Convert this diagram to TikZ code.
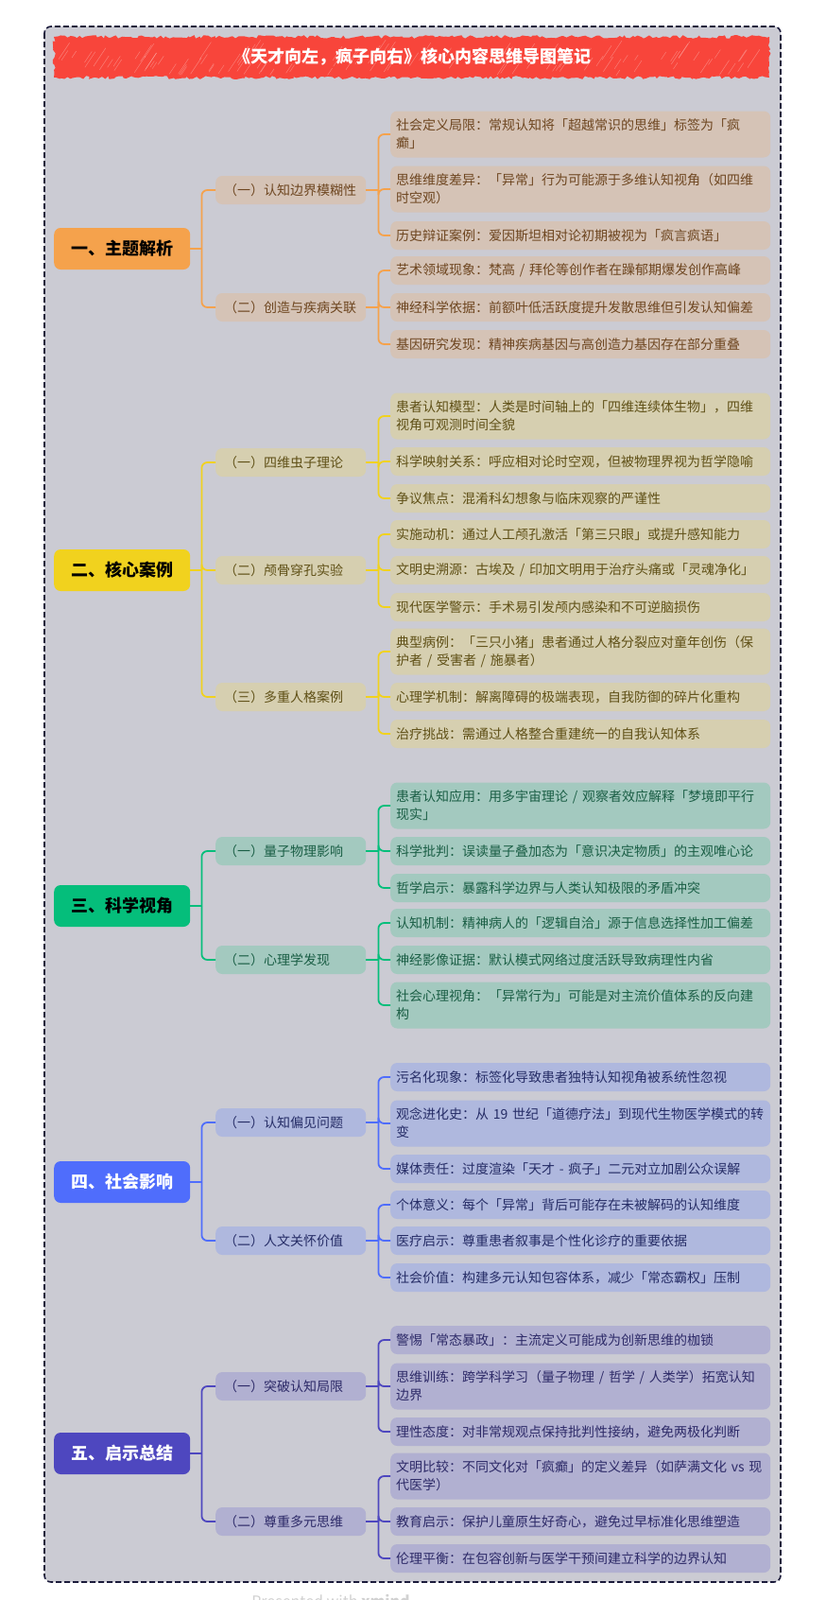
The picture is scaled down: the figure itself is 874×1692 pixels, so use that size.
\documentclass[tikz,border=0pt]{standalone}
\usepackage{fontspec}
\setmainfont{Noto Sans CJK SC}
\usetikzlibrary{calc,decorations.pathmorphing}
\definecolor{framebg}{HTML}{CBCBD3}
\definecolor{frameline}{HTML}{1B1B3B}
\definecolor{bannerred}{HTML}{F8453B}
\definecolor{cA}{HTML}{F5A24C}\definecolor{fA}{HTML}{D5C3B6}\definecolor{tA}{HTML}{6E4620}
\definecolor{cB}{HTML}{F1D21E}\definecolor{fB}{HTML}{D6CFB0}\definecolor{tB}{HTML}{5F5016}
\definecolor{cC}{HTML}{05BE7B}\definecolor{fC}{HTML}{A3C9BF}\definecolor{tC}{HTML}{1A5E45}
\definecolor{cD}{HTML}{4F6DFC}\definecolor{fD}{HTML}{AFB8DE}\definecolor{tD}{HTML}{252C66}
\definecolor{cE}{HTML}{4E47BF}\definecolor{fE}{HTML}{B1B0D1}\definecolor{tE}{HTML}{2D2A68}
\tikzset{
  rootbox/.style={rounded corners=7pt, minimum width=144pt, minimum height=44pt, inner sep=0pt,
    font=\fontsize{18}{22}\selectfont\bfseries, anchor=west},
  subbox/.style={rounded corners=7pt, text width=141pt, inner xsep=9pt, inner ysep=0pt,
    minimum height=30pt, align=left, font=\fontsize{14}{19}\selectfont, anchor=west},
  leafbox/.style={rounded corners=7pt, text width=390pt, inner xsep=6pt, inner ysep=0pt,
    minimum height=30pt, align=left, font=\fontsize{14}{19}\selectfont, anchor=west},
  two/.style={minimum height=49pt},
  conn/.style={line width=1.8pt, rounded corners=6pt},
  rA/.style={rootbox, fill=cA, text=black}, sA/.style={subbox, fill=fA, text=tA}, lA/.style={leafbox, fill=fA, text=tA}, kA/.style={conn, draw=cA},
  rB/.style={rootbox, fill=cB, text=black}, sB/.style={subbox, fill=fB, text=tB}, lB/.style={leafbox, fill=fB, text=tB}, kB/.style={conn, draw=cB},
  rC/.style={rootbox, fill=cC, text=black}, sC/.style={subbox, fill=fC, text=tC}, lC/.style={leafbox, fill=fC, text=tC}, kC/.style={conn, draw=cC},
  rD/.style={rootbox, fill=cD, text=white}, sD/.style={subbox, fill=fD, text=tD}, lD/.style={leafbox, fill=fD, text=tD}, kD/.style={conn, draw=cD},
  rE/.style={rootbox, fill=cE, text=white}, sE/.style={subbox, fill=fE, text=tE}, lE/.style={leafbox, fill=fE, text=tE}, kE/.style={conn, draw=cE},
}
\begin{document}
\begin{tikzpicture}[x=1pt,y=-1pt]
\useasboundingbox (0,0) rectangle (874,1692);
\fill[white] (0,0) rectangle (874,1692);
% frame
\draw[fill=framebg, draw=frameline, line width=1.6pt, dash pattern=on 6pt off 3pt, rounded corners=7pt] (47,28) rectangle (826,1673);
% banner
\fill[bannerred, decorate, decoration={random steps, segment length=3pt, amplitude=1.8pt}] (57,39) rectangle (814,82);
\pgfmathsetseed{7}
\foreach \i in {0,...,110}{
  \pgfmathsetmacro{\xa}{62+rnd*730}
  \pgfmathsetmacro{\ya}{60+rnd*20}
  \pgfmathsetmacro{\ln}{6+rnd*16}
  \draw[white, opacity=0.3, line width=0.5pt] (\xa,\ya) -- ++(0.6*\ln,-0.9*\ln);
}
\node[text=white, font=\fontsize{18}{22}\selectfont\bfseries] (title) at (436,60) {《天才向左，疯子向右》核心内容思维导图笔记};
\node[anchor=north, text=black!18, font=\fontsize{16}{18}\selectfont] (wm) at (350,1683) {Presented with \textbf{xmind}};

% ===== Section 1 =====
\node[rA] (r1) at (57,263) {一、主题解析};
\node[sA] (s11) at (228,201) {（一）认知边界模糊性};
\node[sA] (s12) at (228,325) {（二）创造与疾病关联};
\node[lA,two] (l111) at (413,142) {社会定义局限：常规认知将「超越常识的思维」标签为「疯\\癫」};
\node[lA,two] (l112) at (413,200) {思维维度差异：「异常」行为可能源于多维认知视角（如四维\\时空观）};
\node[lA] (l113) at (413,249) {历史辩证案例：爱因斯坦相对论初期被视为「疯言疯语」};
\node[lA] (l121) at (413,286) {艺术领域现象：梵高 / 拜伦等创作者在躁郁期爆发创作高峰};
\node[lA] (l122) at (413,325) {神经科学依据：前额叶低活跃度提升发散思维但引发认知偏差};
\node[lA] (l123) at (413,364) {基因研究发现：精神疾病基因与高创造力基因存在部分重叠};
\coordinate (j1) at ([xshift=12pt]r1.east);
\draw[kA] (r1.east) -- (j1);
\draw[kA] (j1) |- (s11.west);
\draw[kA] (j1) |- (s12.west);
\coordinate (k11) at ([xshift=13pt]s11.east);
\draw[kA] (s11.east) -- (k11);
\foreach \n in {l111,l112,l113} \draw[kA] (k11) |- (\n.west);
\coordinate (k12) at ([xshift=13pt]s12.east);
\draw[kA] (s12.east) -- (k12);
\foreach \n in {l121,l122,l123} \draw[kA] (k12) |- (\n.west);

% ===== Section 2 =====
\node[rB] (r2) at (57,603) {二、核心案例};
\node[sB] (s21) at (228,489) {（一）四维虫子理论};
\node[sB] (s22) at (228,603) {（二）颅骨穿孔实验};
\node[sB] (s23) at (228,737) {（三）多重人格案例};
\node[lB,two] (l211) at (413,440) {患者认知模型：人类是时间轴上的「四维连续体生物」，四维\\视角可观测时间全貌};
\node[lB] (l212) at (413,488) {科学映射关系：呼应相对论时空观，但被物理界视为哲学隐喻};
\node[lB] (l213) at (413,527) {争议焦点：混淆科幻想象与临床观察的严谨性};
\node[lB] (l221) at (413,565) {实施动机：通过人工颅孔激活「第三只眼」或提升感知能力};
\node[lB] (l222) at (413,603) {文明史溯源：古埃及 / 印加文明用于治疗头痛或「灵魂净化」};
\node[lB] (l223) at (413,642) {现代医学警示：手术易引发颅内感染和不可逆脑损伤};
\node[lB,two] (l231) at (413,689) {典型病例：「三只小猪」患者通过人格分裂应对童年创伤（保\\护者 / 受害者 / 施暴者）};
\node[lB] (l232) at (413,737) {心理学机制：解离障碍的极端表现，自我防御的碎片化重构};
\node[lB] (l233) at (413,776) {治疗挑战：需通过人格整合重建统一的自我认知体系};
\coordinate (j2) at ([xshift=12pt]r2.east);
\draw[kB] (r2.east) -- (j2);
\foreach \n in {s21,s22,s23} \draw[kB] (j2) |- (\n.west);
\coordinate (k21) at ([xshift=13pt]s21.east);
\draw[kB] (s21.east) -- (k21);
\foreach \n in {l211,l212,l213} \draw[kB] (k21) |- (\n.west);
\coordinate (k22) at ([xshift=13pt]s22.east);
\draw[kB] (s22.east) -- (k22);
\foreach \n in {l221,l222,l223} \draw[kB] (k22) |- (\n.west);
\coordinate (k23) at ([xshift=13pt]s23.east);
\draw[kB] (s23.east) -- (k23);
\foreach \n in {l231,l232,l233} \draw[kB] (k23) |- (\n.west);

% ===== Section 3 =====
\node[rC] (r3) at (57,958) {三、科学视角};
\node[sC] (s31) at (228,900) {（一）量子物理影响};
\node[sC] (s32) at (228,1015) {（二）心理学发现};
\node[lC,two] (l311) at (413,852) {患者认知应用：用多宇宙理论 / 观察者效应解释「梦境即平行\\现实」};
\node[lC] (l312) at (413,900) {科学批判：误读量子叠加态为「意识决定物质」的主观唯心论};
\node[lC] (l313) at (413,939) {哲学启示：暴露科学边界与人类认知极限的矛盾冲突};
\node[lC] (l321) at (413,976) {认知机制：精神病人的「逻辑自洽」源于信息选择性加工偏差};
\node[lC] (l322) at (413,1015) {神经影像证据：默认模式网络过度活跃导致病理性内省};
\node[lC,two] (l323) at (413,1063) {社会心理视角：「异常行为」可能是对主流价值体系的反向建\\构};
\coordinate (j3) at ([xshift=12pt]r3.east);
\draw[kC] (r3.east) -- (j3);
\foreach \n in {s31,s32} \draw[kC] (j3) |- (\n.west);
\coordinate (k31) at ([xshift=13pt]s31.east);
\draw[kC] (s31.east) -- (k31);
\foreach \n in {l311,l312,l313} \draw[kC] (k31) |- (\n.west);
\coordinate (k32) at ([xshift=13pt]s32.east);
\draw[kC] (s32.east) -- (k32);
\foreach \n in {l321,l322,l323} \draw[kC] (k32) |- (\n.west);

% ===== Section 4 =====
\node[rD] (r4) at (57,1250) {四、社会影响};
\node[sD] (s41) at (228,1187) {（一）认知偏见问题};
\node[sD] (s42) at (228,1312) {（二）人文关怀价值};
\node[lD] (l411) at (413,1139) {污名化现象：标签化导致患者独特认知视角被系统性忽视};
\node[lD,two] (l412) at (413,1188) {观念进化史：从 19 世纪「道德疗法」到现代生物医学模式的转\\变};
\node[lD] (l413) at (413,1236) {媒体责任：过度渲染「天才 - 疯子」二元对立加剧公众误解};
\node[lD] (l421) at (413,1274) {个体意义：每个「异常」背后可能存在未被解码的认知维度};
\node[lD] (l422) at (413,1312) {医疗启示：尊重患者叙事是个性化诊疗的重要依据};
\node[lD] (l423) at (413,1351) {社会价值：构建多元认知包容体系，减少「常态霸权」压制};
\coordinate (j4) at ([xshift=12pt]r4.east);
\draw[kD] (r4.east) -- (j4);
\foreach \n in {s41,s42} \draw[kD] (j4) |- (\n.west);
\coordinate (k41) at ([xshift=13pt]s41.east);
\draw[kD] (s41.east) -- (k41);
\foreach \n in {l411,l412,l413} \draw[kD] (k41) |- (\n.west);
\coordinate (k42) at ([xshift=13pt]s42.east);
\draw[kD] (s42.east) -- (k42);
\foreach \n in {l421,l422,l423} \draw[kD] (k42) |- (\n.west);

% ===== Section 5 =====
\node[rE] (r5) at (57,1537) {五、启示总结};
\node[sE] (s51) at (228,1466) {（一）突破认知局限};
\node[sE] (s52) at (228,1609) {（二）尊重多元思维};
\node[lE] (l511) at (413,1417) {警惕「常态暴政」：主流定义可能成为创新思维的枷锁};
\node[lE,two] (l512) at (413,1466) {思维训练：跨学科学习（量子物理 / 哲学 / 人类学）拓宽认知\\边界};
\node[lE] (l513) at (413,1514) {理性态度：对非常规观点保持批判性接纳，避免两极化判断};
\node[lE,two] (l521) at (413,1561) {文明比较：不同文化对「疯癫」的定义差异（如萨满文化 vs 现\\代医学）};
\node[lE] (l522) at (413,1609) {教育启示：保护儿童原生好奇心，避免过早标准化思维塑造};
\node[lE] (l523) at (413,1648) {伦理平衡：在包容创新与医学干预间建立科学的边界认知};
\coordinate (j5) at ([xshift=12pt]r5.east);
\draw[kE] (r5.east) -- (j5);
\foreach \n in {s51,s52} \draw[kE] (j5) |- (\n.west);
\coordinate (k51) at ([xshift=13pt]s51.east);
\draw[kE] (s51.east) -- (k51);
\foreach \n in {l511,l512,l513} \draw[kE] (k51) |- (\n.west);
\coordinate (k52) at ([xshift=13pt]s52.east);
\draw[kE] (s52.east) -- (k52);
\foreach \n in {l521,l522,l523} \draw[kE] (k52) |- (\n.west);
\end{tikzpicture}
\end{document}
